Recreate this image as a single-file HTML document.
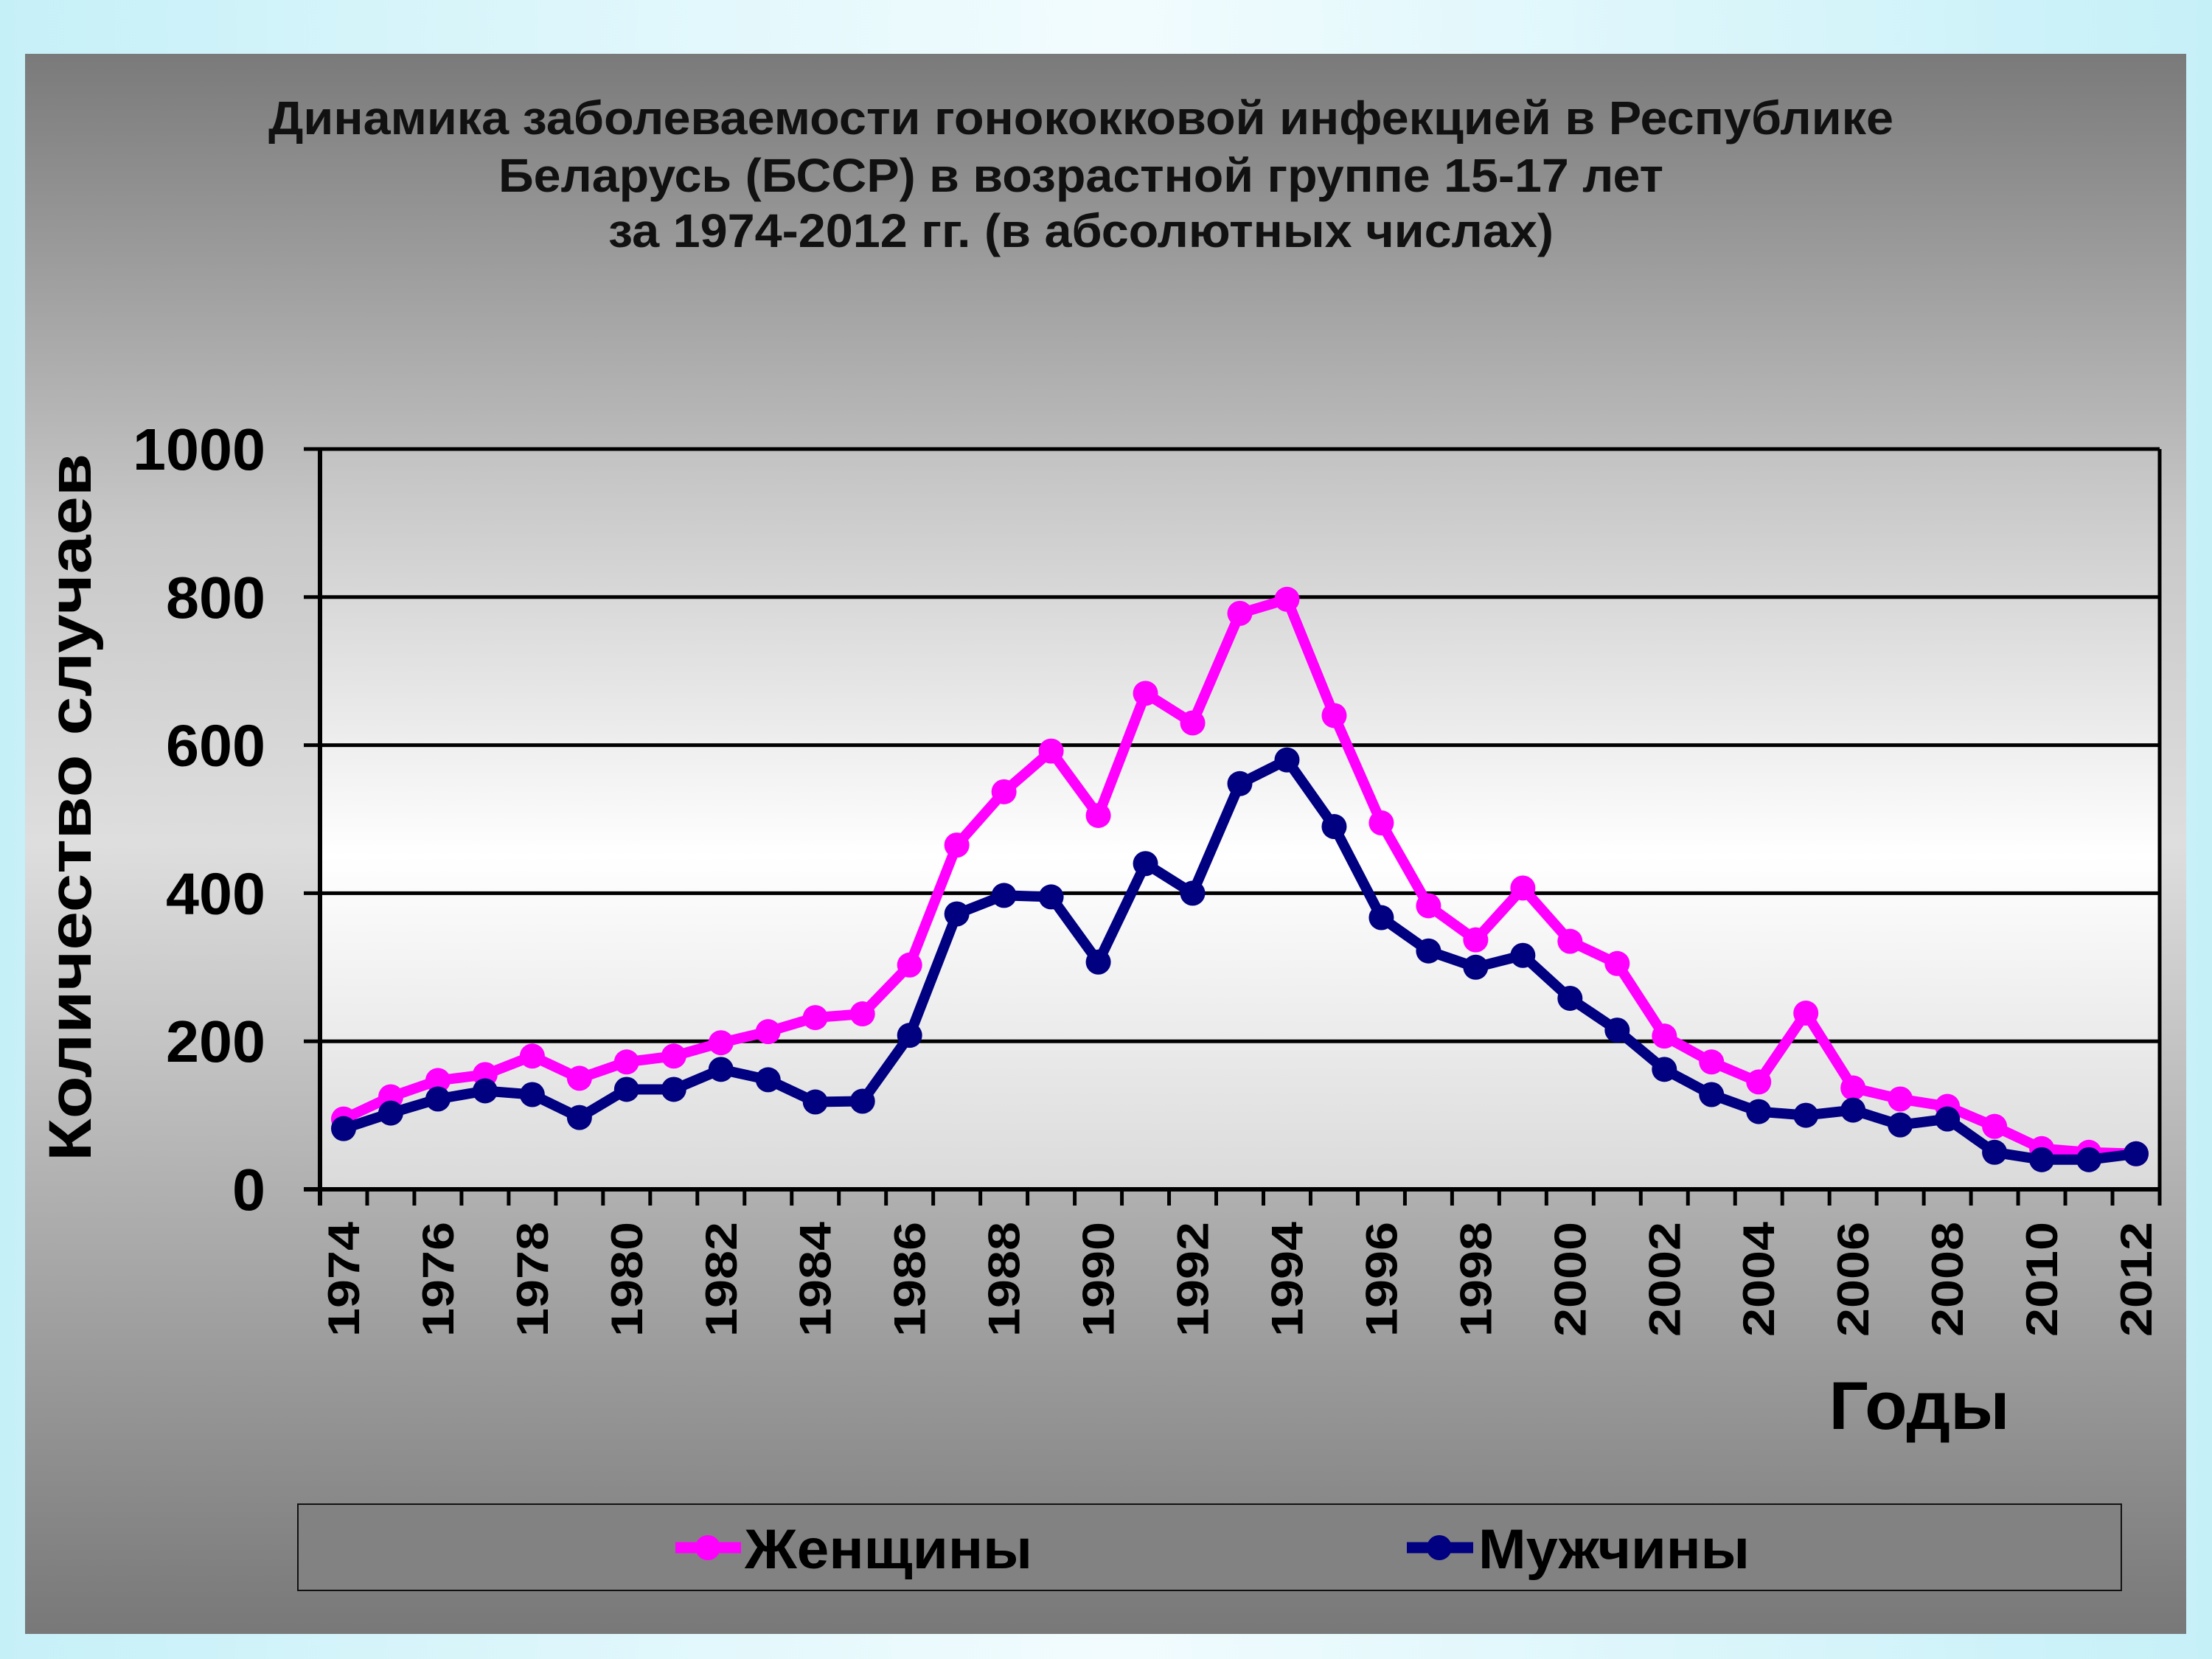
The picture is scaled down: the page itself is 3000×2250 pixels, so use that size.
<!DOCTYPE html>
<html><head><meta charset="utf-8"><style>html,body{margin:0;padding:0;width:3000px;height:2250px;overflow:hidden}</style></head>
<body>
<svg id="chart" xmlns="http://www.w3.org/2000/svg" width="3000" height="2250" viewBox="0 0 3000 2250" font-family="'Liberation Sans', sans-serif">
<defs>
<linearGradient id="bgOuter" x1="0" y1="0" x2="1" y2="0"><stop offset="0" stop-color="#c6f0f8"/><stop offset="0.5" stop-color="#f2fcfe"/><stop offset="1" stop-color="#c6f0f8"/></linearGradient>
<linearGradient id="panel" x1="0" y1="0" x2="0" y2="1"><stop offset="0" stop-color="#7a7a7a"/><stop offset="0.3" stop-color="#c8c8c8"/><stop offset="0.5" stop-color="#dedede"/><stop offset="0.72" stop-color="#b0b0b0"/><stop offset="1" stop-color="#787878"/></linearGradient>
<linearGradient id="plotbg" x1="0" y1="0" x2="0" y2="1"><stop offset="0" stop-color="#c2c2c2"/><stop offset="0.55" stop-color="#ffffff"/><stop offset="1" stop-color="#dadada"/></linearGradient>
</defs>
<rect width="3000" height="2250" fill="url(#bgOuter)"/>
<rect x="34" y="73" width="2931" height="2143" fill="url(#panel)"/>
<g font-weight="bold" font-size="64" text-anchor="middle" fill="#111">
<text x="1466" y="182" textLength="2204" lengthAdjust="spacingAndGlyphs">Динамика заболеваемости гонококковой инфекцией в Республике</text>
<text x="1466" y="260" textLength="1580" lengthAdjust="spacingAndGlyphs">Беларусь (БССР) в возрастной группе 15-17 лет</text>
<text x="1466" y="335" textLength="1282" lengthAdjust="spacingAndGlyphs">за 1974-2012 гг. (в абсолютных числах)</text>
</g>
<rect x="434" y="609" width="2495" height="1004" fill="url(#plotbg)"/>
<g id="grid"></g>
<g id="axes"></g>
<g id="series"></g>
<text transform="translate(123,1095) rotate(-90)" font-size="82" font-weight="bold" text-anchor="middle" textLength="960" lengthAdjust="spacingAndGlyphs">Количество случаев</text>
<text x="2603" y="1938" font-size="92" font-weight="bold" text-anchor="middle" textLength="245" lengthAdjust="spacingAndGlyphs">Годы</text>
<g>
<rect x="404" y="2040" width="2473" height="117" fill="#828282" stroke="#111" stroke-width="2"/>
<g>
<line x1="916" y1="2099" x2="1005" y2="2099" stroke="#ff00ff" stroke-width="15"/><circle cx="960" cy="2099" r="17" fill="#ff00ff"/>
<text x="1010" y="2127" font-size="76" font-weight="bold" textLength="390" lengthAdjust="spacingAndGlyphs">Женщины</text></g>
<g>
<line x1="1908" y1="2099" x2="1998" y2="2099" stroke="#000080" stroke-width="15"/><circle cx="1952" cy="2099" r="17" fill="#000080"/>
<text x="2005" y="2127" font-size="76" font-weight="bold" textLength="368" lengthAdjust="spacingAndGlyphs">Мужчины</text></g>
</g>
</svg>
<script>
const years = [1974,1975,1976,1977,1978,1979,1980,1981,1982,1983,1984,1985,1986,1987,1988,1989,1990,1991,1992,1993,1994,1995,1996,1997,1998,1999,2000,2001,2002,2003,2004,2005,2006,2007,2008,2009,2010,2011,2012];
const women = [95,125,147,155,180,150,172,180,198,213,232,237,303,465,537,592,505,670,630,778,797,640,495,383,337,407,335,305,207,172,145,238,137,122,112,85,55,50,48];
const men = [82,103,122,133,128,97,135,135,162,148,118,119,208,372,397,395,307,440,400,548,580,490,367,322,300,316,258,215,162,128,105,100,107,87,95,50,40,40,48];
const yTicks = [0,200,400,600,800,1000];
const NS = 'http://www.w3.org/2000/svg';
const L = 434, R = 2929, T = 609, B = 1613, YMAX = 1000;
const cw = (R - L) / years.length;
function xPos(i){ return L + cw * (i + 0.5); }
function yPos(v){ return B - (v / YMAX) * (B - T); }
function mk(tag, attrs, parent){ const e = document.createElementNS(NS, tag); for (const k in attrs) e.setAttribute(k, attrs[k]); parent.appendChild(e); return e; }
const grid = document.getElementById('grid'), axes = document.getElementById('axes'), series = document.getElementById('series');
yTicks.forEach(v => {
  const y = yPos(v);
  if (v > 0) {
    const g = mk('line', {x1: L, x2: R, y1: y, y2: y, stroke: '#000', 'stroke-width': 5}, grid);
    
    
  }
  const tk = mk('line', {x1: L - 22, x2: L, y1: y, y2: y, stroke: '#000', 'stroke-width': 5}, axes);
  
  
  const len = String(v).length * 45;
  const t = mk('text', {x: 360, y: y + 28, 'font-size': 80, 'font-weight': 'bold', 'text-anchor': 'end', textLength: len, lengthAdjust: 'spacingAndGlyphs'}, axes);
  t.textContent = v;
  
  
});
const ya = mk('line', {x1: L, x2: L, y1: T, y2: B + 22, stroke: '#000', 'stroke-width': 6}, axes);


const yr = mk('line', {x1: R, x2: R, y1: T, y2: B, stroke: '#000', 'stroke-width': 5}, axes);


const xa = mk('line', {x1: L - 22, x2: R, y1: B, y2: B, stroke: '#000', 'stroke-width': 6}, axes);


for (let i = 0; i <= years.length; i++) {
  const x = L + cw * i;
  const tk = mk('line', {x1: x, x2: x, y1: B, y2: B + 22, stroke: '#000', 'stroke-width': 5}, axes);
  
  
}
years.forEach((yv, i) => {
  if (i % 2 !== 0) return;
  const x = xPos(i);
  const t = mk('text', {transform: 'translate(' + (x + 21) + ',1813) rotate(-90)', 'font-size': 60, 'font-weight': 'bold', textLength: 156, lengthAdjust: 'spacingAndGlyphs'}, axes);
  t.textContent = yv;
  
  
});
function drawSeries(vals, color, name){
  const g = mk('g', {}, series);
  
  
  const pts = vals.map((v, i) => xPos(i).toFixed(1) + ',' + yPos(v).toFixed(1)).join(' ');
  const pl = mk('polyline', {points: pts, fill: 'none', stroke: color, 'stroke-width': 14, 'stroke-linejoin': 'round'}, g);
  
  
  vals.forEach((v, i) => {
    const c = mk('circle', {cx: xPos(i), cy: yPos(v), r: 17, fill: color}, g);
    
    
  });
}
drawSeries(women, '#ff00ff', 'women');
drawSeries(men, '#000080', 'men');
</script>
</body></html>
